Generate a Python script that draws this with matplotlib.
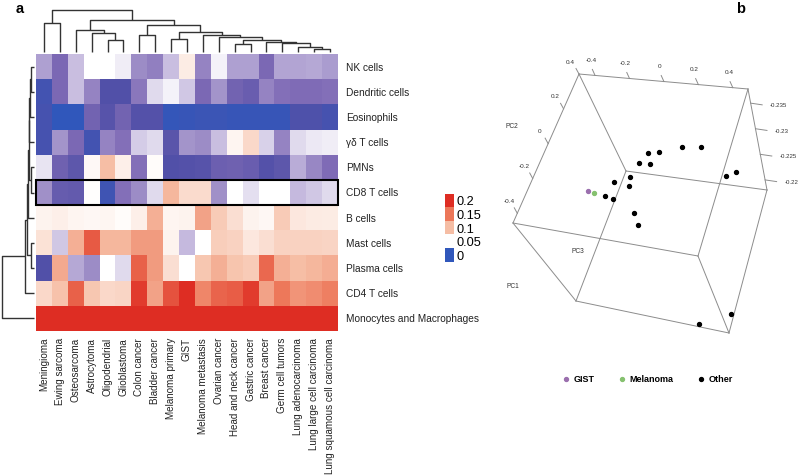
import numpy as np
import matplotlib.pyplot as plt
from matplotlib.colors import LinearSegmentedColormap
from matplotlib.patches import Rectangle

plt.rcParams['font.family'] = ['Liberation Sans', 'DejaVu Sans']

# ---------------- panel a data ----------------
tumours = ['Meningioma', 'Ewing sarcoma', 'Osteosarcoma', 'Astrocytoma',
           'Oligodendrial', 'Glioblastoma', 'Colon cancer', 'Bladder cancer',
           'Melanoma primary', 'GIST', 'Melanoma metastasis', 'Ovarian cancer',
           'Head and neck cancer', 'Gastric cancer', 'Breast cancer',
           'Germ cell tumors', 'Lung adenocarcinoma', 'Lung large cell carcinoma',
           'Lung squamous cell carcinoma']
cell_types = ['NK cells', 'Dendritic cells', 'Eosinophils', 'γδ T cells', 'PMNs',
              'CD8 T cells', 'B cells', 'Mast cells', 'Plasma cells', 'CD4 T cells',
              'Monocytes and Macrophages']

nk = [0.032, 0.020, 0.038, 0.050, 0.050, 0.047, 0.028, 0.025, 0.038, 0.065,
      0.026, 0.048, 0.032, 0.032, 0.020, 0.033, 0.033, 0.034, 0.031]
dendritic = [0.005, 0.020, 0.038, 0.026, 0.008, 0.008, 0.024, 0.043, 0.048, 0.040,
             0.020, 0.030, 0.018, 0.015, 0.026, 0.022, 0.021, 0.021, 0.022]
eosinophils = [0.006, 0.000, 0.000, 0.018, 0.010, 0.018, 0.009, 0.009, 0.001, 0.002,
               0.003, 0.003, 0.002, 0.002, 0.002, 0.002, 0.007, 0.007, 0.006]
gamma_delta = [0.006, 0.030, 0.020, 0.005, 0.026, 0.022, 0.041, 0.043, 0.011, 0.030,
               0.028, 0.038, 0.058, 0.080, 0.042, 0.026, 0.043, 0.046, 0.047]
pmns = [0.045, 0.017, 0.012, 0.055, 0.100, 0.062, 0.022, 0.053, 0.008, 0.009,
        0.010, 0.016, 0.017, 0.015, 0.009, 0.012, 0.035, 0.027, 0.021]
cd8 = [0.029, 0.014, 0.013, 0.051, 0.004, 0.022, 0.028, 0.043, 0.105, 0.078,
       0.078, 0.029, 0.050, 0.044, 0.050, 0.050, 0.037, 0.040, 0.043]
b_cells = [0.060, 0.062, 0.058, 0.056, 0.057, 0.053, 0.062, 0.110, 0.058, 0.060,
           0.120, 0.090, 0.075, 0.060, 0.056, 0.090, 0.068, 0.066, 0.065]
mast = [0.073, 0.040, 0.110, 0.170, 0.105, 0.105, 0.125, 0.125, 0.060, 0.037,
        0.050, 0.088, 0.085, 0.068, 0.075, 0.085, 0.085, 0.085, 0.083]
plasma = [0.008, 0.115, 0.034, 0.028, 0.050, 0.043, 0.165, 0.125, 0.075, 0.050,
          0.093, 0.110, 0.095, 0.090, 0.160, 0.110, 0.100, 0.105, 0.112]
cd4 = [0.080, 0.097, 0.165, 0.093, 0.080, 0.082, 0.190, 0.120, 0.175, 0.200,
       0.140, 0.163, 0.168, 0.190, 0.120, 0.150, 0.130, 0.135, 0.145]
monocytes = [0.26, 0.27, 0.25, 0.26, 0.27, 0.26, 0.25, 0.26, 0.27, 0.25,
             0.26, 0.25, 0.26, 0.25, 0.27, 0.26, 0.26, 0.25, 0.26]

legend_levels = [0.2, 0.15, 0.1, 0.05, 0]

# dendrograms: leaf = index, node = (left, right, height)
col_tree = ((0, 1, 28.7),
            ((2, (3, (4, 5, 12.0), 18.7), 22.5),
             ((6, 7, 17.0),
              ((8, 9, 12.7),
               (10, (11, ((12, 13, 8.5),
                          (14, (15, (16, (17, 18, 2.7), 5.3), 8.7), 9.9), 12.5), 14.7), 17.0),
               19.7), 27.0), 32.0), 42.0)
row_tree = ((((((((0, 1, 3.0), 2, 4.5), 3, 5.0), (4, 5, 3.0), 5.5), 6, 6.5),
              (7, 8, 3.0), 7.5), 9, 9.0), 10, 32.3)

# ---------------- panel b data (projected PCA view) ----------------
box_corners = np.array([[579, 74], [748, 89], [767, 190], [626, 171],
                        [513, 223], [576, 301], [698, 256], [729, 333]])
box_edges = [(0, 1), (1, 2), (2, 3), (3, 0), (0, 4), (4, 5), (5, 3),
             (4, 6), (6, 7), (7, 5), (7, 2), (1, 6)]
gist_x, gist_y = [588.3], [191.0]
melanoma_x, melanoma_y = [594.3], [193.3]
other_x = [604.7, 612.7, 614.3, 630.3, 629.0, 638.7, 650.0, 648.0, 658.7, 681.7,
           701.0, 725.7, 736.3, 634.0, 637.7, 699.0, 731.0]
other_y = [195.7, 199.0, 182.0, 177.3, 185.7, 163.3, 164.0, 152.7, 152.3, 147.3,
           147.3, 176.0, 172.0, 212.7, 225.3, 324.3, 314.3]

pc2_ticks = ['-0.4', '-0.2', '0', '0.2', '0.4']
top_ticks = ['-0.4', '-0.2', '0', '0.2', '0.4']
right_ticks = ['-0.235', '-0.23', '-0.225', '-0.22']

fractions = np.array([nk, dendritic, eosinophils, gamma_delta, pmns, cd8,
                      b_cells, mast, plasma, cd4, monocytes])

vmax = 0.22
cmap = LinearSegmentedColormap.from_list('cib', [
    (0.0, '#3057bb'), (0.036, '#5250a8'), (0.091, '#7c68b4'),
    (0.159, '#bbaed8'), (0.227, '#ffffff'), (0.4545, '#f6bea5'),
    (0.682, '#ed785a'), (0.909, '#de2d23'), (1.0, '#de2d23')])

W, H = 800, 475
fig = plt.figure(figsize=(8, 4.75), dpi=100)


def px_axes(x0, y0, x1, y1):
    return fig.add_axes([x0 / W, 1 - y1 / H, (x1 - x0) / W, (y1 - y0) / H])


def draw_tree(ax, node, vertical):
    if isinstance(node, int):
        return node + 0.5, 0.0
    left, right, h = node
    pl, hl = draw_tree(ax, left, vertical)
    pr, hr = draw_tree(ax, right, vertical)
    pos = [pl, pl, pr, pr]
    hts = [hl, h, h, hr]
    if vertical:
        ax.plot(pos, hts, color='#333333', lw=1.0, solid_capstyle='butt')
    else:
        ax.plot(hts, pos, color='#333333', lw=1.0, solid_capstyle='butt')
    return (pl + pr) / 2, h


# heatmap
ax = px_axes(36, 54, 338, 331)
ax.pcolormesh(fractions, cmap=cmap, vmin=0, vmax=vmax)
ax.set_xlim(0, len(tumours))
ax.set_ylim(len(cell_types), 0)
ax.set_xticks(np.arange(len(tumours)) + 0.5)
ax.set_xticklabels(tumours, rotation=90, fontsize=7.1, color='#222222')
ax.set_yticks(np.arange(len(cell_types)) + 0.5)
ax.set_yticklabels(cell_types, fontsize=7.3, color='#222222')
ax.yaxis.tick_right()
ax.tick_params(axis='both', length=0)
ax.tick_params(axis='y', pad=6)
ax.tick_params(axis='x', pad=5)
for s in ax.spines.values():
    s.set_visible(False)
ax.add_patch(Rectangle((0, 5), len(tumours), 1, fill=False, ec='black',
                       lw=1.5, clip_on=False))

# column dendrogram
axc = px_axes(36, 8, 338, 54)
draw_tree(axc, col_tree, True)
axc.set_xlim(0, len(tumours))
axc.set_ylim(-2, 44)
axc.axis('off')

# row dendrogram
axr = px_axes(0, 54, 36, 331)
draw_tree(axr, row_tree, False)
axr.set_xlim(34, -2)
axr.set_ylim(len(cell_types), 0)
axr.axis('off')

# colour key
axl = px_axes(445, 194, 454, 262.5)
axl.imshow(np.array(legend_levels)[:, None], cmap=cmap, vmin=0, vmax=vmax,
           aspect='auto')
axl.set_xticks([])
axl.set_yticks(range(len(legend_levels)))
axl.set_yticklabels([str(v) for v in legend_levels], fontsize=9.2)
axl.yaxis.tick_right()
axl.tick_params(axis='y', length=0, pad=2)
for s in axl.spines.values():
    s.set_visible(False)

fig.text(16 / W, 1 - 2 / H, 'a', fontsize=10.5, fontweight='bold', va='top')
fig.text(736 / W, 1 - 2 / H, 'b', fontsize=10.5, fontweight='bold', va='top')

# ---------------- panel b ----------------
axb = px_axes(480, 0, 800, 475)
axb.set_xlim(480, 800)
axb.set_ylim(475, 0)
axb.axis('off')
for i, j in box_edges:
    axb.plot(box_corners[[i, j], 0], box_corners[[i, j], 1], color='#8c8c8c', lw=0.7)


def edge_ticks(p0, p1, f0, f1, labels, vec, off, ha='center', size=4.6):
    p0 = np.asarray(p0, float)
    p1 = np.asarray(p1, float)
    for f, lab in zip(np.linspace(f0, f1, len(labels)), labels):
        base = p0 + f * (p1 - p0)
        axb.plot([base[0], base[0] + vec[0]], [base[1], base[1] + vec[1]],
                 color='#8c8c8c', lw=0.7)
        axb.text(base[0] + off[0], base[1] + off[1], lab, fontsize=size,
                 ha=ha, va='center', color='#333333')


edge_ticks(box_corners[4], box_corners[0], 0.065, 1.0, pc2_ticks, (-3, -5.5), (-8.5, -12))
edge_ticks(box_corners[0], box_corners[1], 0.095, 0.91, top_ticks, (-2.7, -6), (-4, -15))
edge_ticks(box_corners[1], box_corners[2], 0.14, 0.9, right_ticks, (11.5, 1.7), (19.5, 2.5),
           ha='left', size=4.4)

axb.text(511.7, 126, 'PC2', fontsize=4.8, ha='center', va='center', color='#333333')
axb.text(578.3, 251.7, 'PC3', fontsize=4.8, ha='center', va='center', color='#333333')
axb.text(513.3, 286, 'PC1', fontsize=4.8, ha='center', va='center', color='#333333')

axb.scatter(gist_x, gist_y, s=8, color='#9b6fae', label='GIST', zorder=3)
axb.scatter(melanoma_x, melanoma_y, s=8, color='#86c16f', label='Melanoma', zorder=3)
axb.scatter(other_x, other_y, s=8, color='black', label='Other', zorder=3)
axb.legend(loc='center', bbox_to_anchor=(648 / W, 1 - 379 / H),
           bbox_transform=fig.transFigure, ncol=3, frameon=False,
           handlelength=0.6, handletextpad=0.5, columnspacing=2.8,
           prop={'weight': 'bold', 'size': 6.5})

fig.savefig('out.png', dpi=100)
